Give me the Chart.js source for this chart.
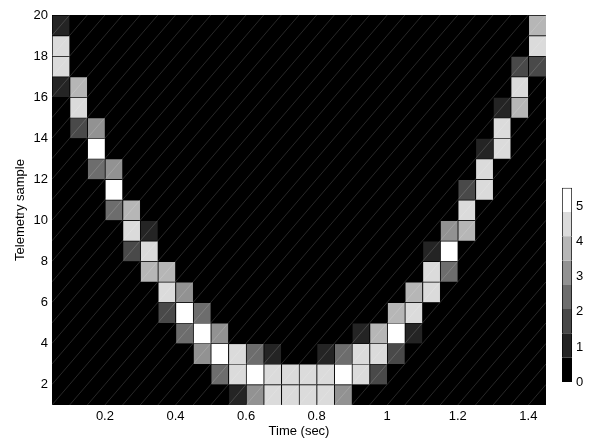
<!DOCTYPE html>
<html>
<head>
<meta charset="utf-8">
<script src="https://cdn.jsdelivr.net/npm/chart.js@4.4.0/dist/chart.umd.min.js"></script>
<style>
html, body { margin: 0; padding: 0; background: #fff; }
#wrap { position: relative; width: 600px; height: 442px; }
#main { position: absolute; left: 0; top: 0; }
#cbar { position: absolute; left: 548px; top: 176px; }
</style>
</head>
<body>
<div id="wrap">
  <canvas id="main" width="600" height="442"></canvas>
  <canvas id="cbar" width="52" height="226"></canvas>
</div>
<script>
// cell centres along time (sec)
var timeCenters = [0.075, 0.125, 0.175, 0.225, 0.275, 0.325, 0.375,
                   0.425, 0.475, 0.525, 0.575, 0.625, 0.675, 0.725,
                   0.775, 0.825, 0.875, 0.925, 0.975, 1.025, 1.075,
                   1.125, 1.175, 1.225, 1.275, 1.325, 1.375, 1.425];
// lower edge of each telemetry-sample row, top row first
var sampleRows = [19, 18, 17, 16, 15, 14, 13, 12, 11, 10, 9, 8, 7, 6, 5, 4, 3, 2, 1];
// intensity per row (same order as sampleRows), one value per time cell
var intensity = [
  [1.0,0,0,0,0,0,0, 0,0,0,0,0,0,0, 0,0,0,0,0,0,0, 0,0,0,0,0,0,3.8],
  [4.5,0,0,0,0,0,0, 0,0,0,0,0,0,0, 0,0,0,0,0,0,0, 0,0,0,0,0,0,4.5],
  [4.5,0,0,0,0,0,0, 0,0,0,0,0,0,0, 0,0,0,0,0,0,0, 0,0,0,0,0,1.7,1.7],
  [1.0,3.8,0,0,0,0,0, 0,0,0,0,0,0,0, 0,0,0,0,0,0,0, 0,0,0,0,0,4.5,0],
  [0,4.5,0,0,0,0,0, 0,0,0,0,0,0,0, 0,0,0,0,0,0,0, 0,0,0,0,1.0,3.8,0],
  [0,1.7,3.1,0,0,0,0, 0,0,0,0,0,0,0, 0,0,0,0,0,0,0, 0,0,0,0,4.5,0,0],
  [0,0,5.3,0,0,0,0, 0,0,0,0,0,0,0, 0,0,0,0,0,0,0, 0,0,0,1.0,4.5,0,0],
  [0,0,2.4,3.1,0,0,0, 0,0,0,0,0,0,0, 0,0,0,0,0,0,0, 0,0,0,4.5,0,0,0],
  [0,0,0,5.3,0,0,0, 0,0,0,0,0,0,0, 0,0,0,0,0,0,0, 0,0,1.7,4.5,0,0,0],
  [0,0,0,2.4,3.8,0,0, 0,0,0,0,0,0,0, 0,0,0,0,0,0,0, 0,0,4.5,0,0,0,0],
  [0,0,0,0,4.5,1.0,0, 0,0,0,0,0,0,0, 0,0,0,0,0,0,0, 0,3.1,3.8,0,0,0,0],
  [0,0,0,0,1.7,4.5,0, 0,0,0,0,0,0,0, 0,0,0,0,0,0,0, 1.0,5.3,0,0,0,0,0],
  [0,0,0,0,0,3.8,3.8, 0,0,0,0,0,0,0, 0,0,0,0,0,0,0, 4.5,2.4,0,0,0,0,0],
  [0,0,0,0,0,0,4.5, 3.1,0,0,0,0,0,0, 0,0,0,0,0,0,3.8, 4.5,0,0,0,0,0,0],
  [0,0,0,0,0,0,1.7, 5.3,2.4,0,0,0,0,0, 0,0,0,0,0,3.8,4.5, 0,0,0,0,0,0,0],
  [0,0,0,0,0,0,0, 2.4,5.3,3.1,0,0,0,0, 0,0,0,1.0,3.8,5.3,1.0, 0,0,0,0,0,0,0],
  [0,0,0,0,0,0,0, 0,3.1,5.3,4.5,2.4,1.0,0, 0,1.0,2.4,4.5,4.5,1.7,0, 0,0,0,0,0,0,0],
  [0,0,0,0,0,0,0, 0,0,2.4,4.5,5.3,4.5,4.5, 4.5,4.5,5.3,4.5,1.7,0,0, 0,0,0,0,0,0,0],
  [0,0,0,0,0,0,0, 0,0,0,1.0,3.1,4.5,4.5, 4.5,4.5,3.1,0,0,0,0, 0,0,0,0,0,0,0]
];
var xTicks = [0.2, 0.4, 0.6, 0.8, 1, 1.2, 1.4];
var xTickLabels = ['0.2', '0.4', '0.6', '0.8', '1', '1.2', '1.4'];
var yTicks = [2, 4, 6, 8, 10, 12, 14, 16, 18, 20];
// colorbar: band edges and tick values
var cbarEdges = [0, 0.69, 1.39, 2.08, 2.77, 3.46, 4.16, 4.85, 5.54];
var cbarTicks = [0, 1, 2, 3, 4, 5];

var grays = ['#000000', '#242424', '#494949', '#6d6d6d', '#929292', '#b6b6b6', '#dbdbdb', '#ffffff'];
var font = { family: 'Arial, "Liberation Sans", sans-serif', size: 13 };

function grayFor(v) {
    for (var i = 1; i < cbarEdges.length - 1; i++) {
        if (v < cbarEdges[i]) return grays[i - 1];
    }
    return grays[grays.length - 1];
}

var datasets = sampleRows.map(function (r, i) {
    return {
        data: timeCenters.map(function (t) { return { x: t, y: [r, r + 1] }; }),
        backgroundColor: intensity[i].map(grayFor),
        borderColor: 'rgba(0,0,0,0.8)',
        borderWidth: { left: 1, top: 1, right: 0, bottom: 0 },
        borderSkipped: false,
        grouped: false,
        barPercentage: 1,
        categoryPercentage: 1
    };
});

// black plot background so no white seams show between cells
var plotBg = {
    id: 'plotBg',
    beforeDatasetsDraw: function (chart) {
        var ctx = chart.ctx, a = chart.chartArea;
        ctx.save();
        ctx.fillStyle = '#000';
        ctx.fillRect(a.left, a.top, a.right - a.left, a.bottom - a.top);
        ctx.restore();
    }
};

// faint diagonal in each cell, like the rendered patch triangles
var hatch = {
    id: 'hatch',
    afterDatasetsDraw: function (chart) {
        var ctx = chart.ctx, a = chart.chartArea;
        ctx.save();
        ctx.beginPath();
        ctx.rect(a.left, a.top, a.right - a.left, a.bottom - a.top);
        ctx.clip();
        ctx.strokeStyle = 'rgba(255,255,255,0.2)';
        ctx.lineWidth = 0.8;
        ctx.beginPath();
        chart.data.datasets.forEach(function (ds, i) {
            chart.getDatasetMeta(i).data.forEach(function (el) {
                ctx.moveTo(el.x - el.width / 2, el.base);
                ctx.lineTo(el.x + el.width / 2, el.y);
            });
        });
        ctx.stroke();
        ctx.restore();
    }
};

new Chart(document.getElementById('main'), {
    type: 'bar',
    data: { datasets: datasets },
    options: {
        responsive: false,
        animation: false,
        events: [],
        layout: { padding: { left: 0, right: 54, top: 15, bottom: 0 } },
        plugins: { legend: { display: false }, tooltip: { enabled: false } },
        scales: {
            x: {
                type: 'linear',
                offset: false,
                min: 0.05,
                max: 1.45,
                grid: { display: false, drawTicks: false },
                border: { display: false },
                afterBuildTicks: function (s) { s.ticks = xTicks.map(function (v) { return { value: v }; }); },
                afterFit: function (s) { s.height = 37; },
                ticks: {
                    color: '#000', font: font, padding: 4, maxRotation: 0,
                    callback: function (v, i) { return xTickLabels[i]; }
                },
                title: { display: true, text: 'Time (sec)', color: '#000', font: font, padding: { top: 0, bottom: 3 } }
            },
            y: {
                min: 1,
                max: 20,
                grid: { display: false, drawTicks: false },
                border: { display: false },
                afterBuildTicks: function (s) { s.ticks = yTicks.map(function (v) { return { value: v }; }); },
                afterFit: function (s) { s.width = 52; },
                ticks: { color: '#000', font: font, padding: 4 },
                title: { display: true, text: 'Telemetry sample', color: '#000', font: font, padding: { top: 13, bottom: 0 } }
            }
        }
    },
    plugins: [plotBg, hatch]
});

var cbarSets = grays.map(function (g, i) {
    return {
        data: [[cbarEdges[i], cbarEdges[i + 1]]],
        backgroundColor: g,
        borderColor: '#000',
        borderWidth: { left: 1, right: 1, top: i === grays.length - 1 ? 1 : 0, bottom: i === 0 ? 1 : 0 },
        borderSkipped: false,
        grouped: false,
        barPercentage: 1,
        categoryPercentage: 1
    };
});

new Chart(document.getElementById('cbar'), {
    type: 'bar',
    data: { labels: [''], datasets: cbarSets },
    options: {
        responsive: false,
        animation: false,
        events: [],
        layout: { padding: { left: 14, right: 0, top: 10, bottom: 20 } },
        plugins: { legend: { display: false }, tooltip: { enabled: false } },
        scales: {
            x: { display: false },
            y: {
                position: 'right',
                min: 0,
                max: 5.54,
                grid: { display: false, drawTicks: false },
                border: { display: false },
                afterBuildTicks: function (s) { s.ticks = cbarTicks.map(function (v) { return { value: v }; }); },
                afterFit: function (s) { s.width = 28; },
                ticks: { color: '#000', font: font, padding: 4 }
            }
        }
    }
});
</script>
</body>
</html>
